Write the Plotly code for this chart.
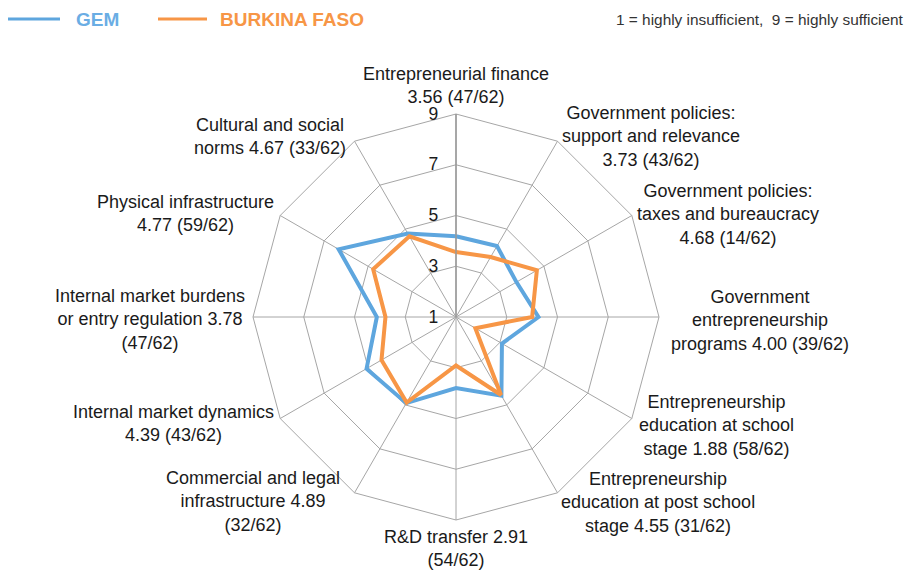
import plotly.graph_objects as go

categories = [
    "Entrepreneurial finance",
    "Government policies: support and relevance",
    "Government policies: taxes and bureaucracy",
    "Government entrepreneurship programs",
    "Entrepreneurship education at school stage",
    "Entrepreneurship education at post school stage",
    "R&D transfer",
    "Commercial and legal infrastructure",
    "Internal market dynamics",
    "Internal market burdens or entry regulation",
    "Physical infrastructure",
    "Cultural and social norms",
]
burkina = [3.56, 3.73, 4.68, 4.00, 1.88, 4.55, 2.91, 4.89, 4.39, 3.78, 4.77, 4.67]
gem = [4.18, 4.23, 3.75, 4.25, 3.09, 4.58, 3.80, 4.92, 5.07, 4.12, 6.34, 4.80]
ranks = ["47/62", "43/62", "14/62", "39/62", "58/62", "31/62",
         "54/62", "32/62", "43/62", "47/62", "59/62", "33/62"]
label_texts = [
    "Entrepreneurial finance<br>3.56 (47/62)",
    "Government policies:<br>support and relevance<br>3.73 (43/62)",
    "Government policies:<br>taxes and bureaucracy<br>4.68 (14/62)",
    "Government<br>entrepreneurship<br>programs 4.00 (39/62)",
    "Entrepreneurship<br>education at school<br>stage 1.88 (58/62)",
    "Entrepreneurship<br>education at post school<br>stage 4.55 (31/62)",
    "R&D transfer 2.91<br>(54/62)",
    "Commercial and legal<br>infrastructure 4.89<br>(32/62)",
    "Internal market dynamics<br>4.39 (43/62)",
    "Internal market burdens<br>or entry regulation 3.78<br>(47/62)",
    "Physical infrastructure<br>4.77 (59/62)",
    "Cultural and social<br>norms 4.67 (33/62)",
]
radial_ticks = [1, 3, 5, 7, 9]

W, H = 920, 571
BLUE = "#5EA6DE"
ORANGE = "#F79646"
GRID = "#A6A6A6"
LABEL_FONT = "Liberation Sans, Arial, sans-serif"

# label block centres in pixels (x, y from top)
label_pos = [(456, 85), (651, 136), (728, 214), (760, 320), (716, 425), (658, 502),
             (456, 548), (253, 501), (173, 424), (150, 319), (185, 213), (270, 136)]

fig = go.Figure()
for name, vals, col in [("GEM", gem, BLUE), ("BURKINA FASO", burkina, ORANGE)]:
    fig.add_trace(go.Scatterpolar(
        r=vals + vals[:1], theta=categories + categories[:1],
        mode="lines", name=name, line=dict(color=col, width=4),
        hoverinfo="r+theta",
    ))

cx, cy, rad = 456, 317, 203
fig.update_layout(
    width=W, height=H,
    margin=dict(l=0, r=0, t=0, b=0),
    paper_bgcolor="white", plot_bgcolor="white",
    showlegend=False,
    font=dict(family=LABEL_FONT, color="#1a1a1a"),
    polar=dict(
        domain=dict(x=[(cx - rad) / W, (cx + rad) / W],
                    y=[(H - cy - rad) / H, (H - cy + rad) / H]),
        bgcolor="white",
        gridshape="linear",
        angularaxis=dict(
            rotation=90, direction="clockwise",
            showticklabels=False, ticks="",
            showline=True, linecolor=GRID, linewidth=1,
            showgrid=True, gridcolor=GRID, gridwidth=1,
        ),
        radialaxis=dict(
            range=[1, 9], tickvals=radial_ticks, ticktext=[str(t) for t in radial_ticks],
            angle=90, tickangle=90, side="counterclockwise",
            showline=True, linecolor="#999999", linewidth=1.5,
            showgrid=True, gridcolor=GRID, gridwidth=1,
            ticks="outside", ticklen=11, tickcolor="rgba(0,0,0,0)",
            tickfont=dict(size=17.5, color="#1a1a1a"),
        ),
    ),
)

annotations = []
for txt, (px, py) in zip(label_texts, label_pos):
    annotations.append(dict(
        text=txt, x=px / W, y=1 - py / H, xref="paper", yref="paper",
        xanchor="center", yanchor="middle", align="center", showarrow=False,
        font=dict(size=18, color="#1a1a1a", family=LABEL_FONT),
    ))

# header legend
annotations.append(dict(text="<b>GEM</b>", x=74 / W, y=1 - 19 / H, xref="paper", yref="paper",
                        xanchor="left", yanchor="middle", showarrow=False,
                        font=dict(size=19, color="#6AADE4", family=LABEL_FONT)))
annotations.append(dict(text="<b>BURKINA FASO</b>", x=218 / W, y=1 - 19 / H, xref="paper", yref="paper",
                        xanchor="left", yanchor="middle", showarrow=False,
                        font=dict(size=19, color=ORANGE, family=LABEL_FONT)))
annotations.append(dict(text="1 = highly insufficient,  9 = highly sufficient",
                        x=906 / W, y=1 - 19 / H, xref="paper", yref="paper",
                        xanchor="right", yanchor="middle", showarrow=False,
                        font=dict(size=15.4, color="#333333", family=LABEL_FONT)))
fig.update_layout(annotations=annotations)

shapes = [
    dict(type="line", xref="paper", yref="paper", x0=8 / W, x1=60 / W, y0=1 - 19 / H, y1=1 - 19 / H,
         line=dict(color=BLUE, width=3)),
    dict(type="line", xref="paper", yref="paper", x0=158 / W, x1=207 / W, y0=1 - 19 / H, y1=1 - 19 / H,
         line=dict(color=ORANGE, width=3)),
]
fig.update_layout(shapes=shapes)

fig.write_html(
    "out.html",
    config={"displayModeBar": False},
    post_script="document.body.style.margin='0';document.body.style.padding='0';",
)
